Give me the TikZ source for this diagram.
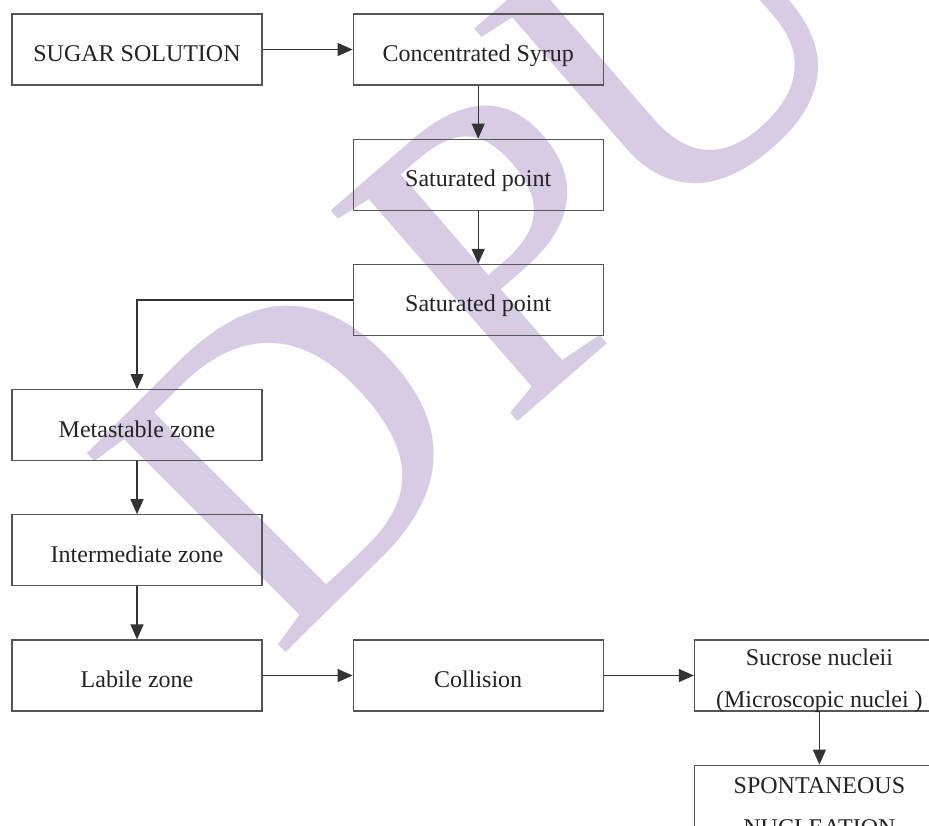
\documentclass[tikz,border=0pt]{standalone}
\usepackage{fontspec}
\setmainfont{Liberation Serif}
\usetikzlibrary{arrows.meta,positioning,calc}
\definecolor{wmcolor}{RGB}{216,204,229}
\definecolor{boxline}{RGB}{85,85,85}
\definecolor{txtcolor}{RGB}{35,35,35}
\tikzset{
    stage/.style={
        rectangle,
        draw=boxline,
        line width=1.2pt,
        minimum width=250pt,
        minimum height=71pt,
        inner sep=0pt,
        text height=24pt,
        text depth=0pt,
        text=txtcolor,
        font=\fontsize{24}{42}\selectfont,
    },
    stagetext/.style={
        align=center,
        inner sep=0pt,
        text=txtcolor,
        font=\fontsize{24}{42}\selectfont,
    },
    watermark/.style={
        text=wmcolor,
        inner sep=0pt,
        anchor=base west,
        font=\fontsize{430}{430}\selectfont,
    },
    flow/.style={
        draw=black!80,
        ->,>={Triangle[length=15pt,width=13pt]},
        line width=1.2pt,
    },
    node distance=53pt,
}
\begin{document}
\begin{tikzpicture}[x=1pt,y=-1pt]
    \useasboundingbox (0,0) rectangle (929,825);
    \clip (0,0) rectangle (929,825);

    % Background mark
    \node [watermark, rotate=45] (mark-d) at (277,662) {D};
    \node [watermark, rotate=41] (mark-p) at (506,432) {P};
    \node [watermark, rotate=41] (mark-u) at (652,248) {U};

    % Nodes and position definitions
    \node [stage] (sugar) at (137,49.5) {SUGAR SOLUTION};
    \node [stage] (conc) [right=90pt of sugar] {Concentrated Syrup};
    \node [stage] (sat1) [below=of conc] {Saturated point};
    \node [stage] (sat2) [below=of sat1] {Saturated point};
    \coordinate (left-sat2) at (sugar |- sat2.south);

    \node [stage] (meta) [below=of left-sat2] {Metastable zone};
    \node [stage] (inter) [below=of meta] {Intermediate zone};
    \node [stage] (labile) [below=of inter] {Labile zone};
    \node [stage] (coll) [right=90pt of labile] {Collision};

    \node [stage] (nuclei) [right=90pt of coll] {};
    \node [stagetext, anchor=base] (nuclei-txt) at ($(nuclei.north)+(0,68.4)$)
        {Sucrose nucleii\\(Microscopic nuclei )};
    \node [stage, minimum height=100pt] (spont) [below=of nuclei] {};
    \node [stagetext, anchor=base] (spont-txt) at ($(spont.north)+(0,71)$)
        {SPONTANEOUS\\NUCLEATION};

    % Connectors
    \draw [flow] (sugar) -- (conc);
    \draw [flow] (conc) -- (sat1);
    \draw [flow] (sat1) -- (sat2);
    \draw [flow] (sat2.west) -| (meta.north);
    \draw [flow] (meta) -- (inter);
    \draw [flow] (inter) -- (labile);
    \draw [flow] (labile) -- (coll);
    \draw [flow] (coll) -- (nuclei);
    \draw [flow] (nuclei) -- (spont);
\end{tikzpicture}
\end{document}
